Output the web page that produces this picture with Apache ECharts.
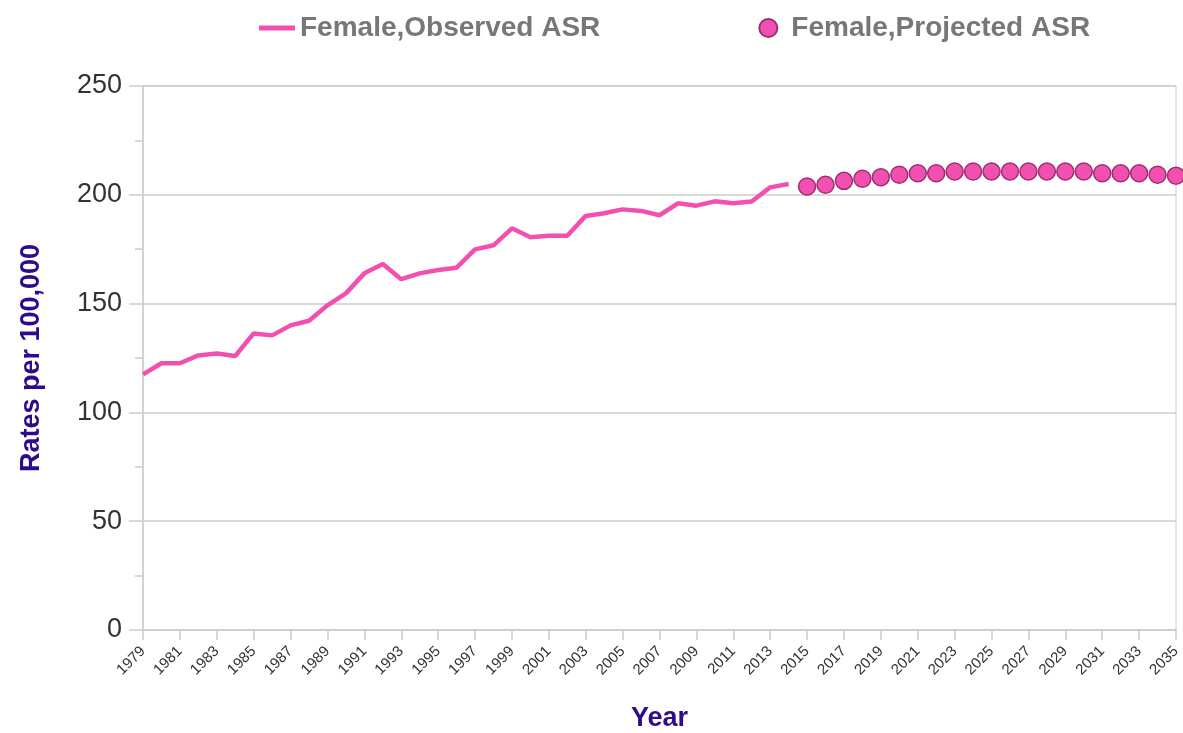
<!DOCTYPE html>
<html>
<head>
<meta charset="utf-8">
<script src="https://cdn.jsdelivr.net/npm/echarts@6/dist/echarts.min.js"></script>
<style>
    html, body { margin: 0; padding: 0; background: #fff; }
    #chart { width: 1183px; height: 733px; }
</style>
</head>
<body>
<div id="chart"></div>
<script>
var years = [];
for (var y = 1979; y <= 2035; y++) {
    years.push(String(y));
}

// 1979 - 2014
var observed = [117.5, 122.6, 122.6, 126.2, 127.1, 125.9, 136.3, 135.4, 140, 142.1,
    149.2, 154.7, 163.9, 168.2, 161.2, 163.9, 165.4, 166.5, 174.9, 176.8,
    184.6, 180.5, 181.2, 181.2, 190.3, 191.5, 193.3, 192.6, 190.6, 196.1,
    195, 197, 196.1, 196.9, 203.4, 205];

// 2015 - 2035
var projected = [203.8, 204.6, 206.4, 207.4, 208.1, 209.2, 209.9, 209.9, 210.7, 210.7,
    210.7, 210.7, 210.7, 210.7, 210.7, 210.7, 209.9, 209.9, 209.9, 209.2, 208.8];

var obsData = years.map(function (y, i) {
    return i < observed.length ? observed[i] : null;
});
var projData = years.map(function (y, i) {
    var j = i - observed.length;
    return j >= 0 ? projected[j] : null;
});

var chart = echarts.init(document.getElementById('chart'));

var option = {
    animation: false,
    textStyle: { fontFamily: 'Liberation Sans, Arial, sans-serif' },
    legend: {
        top: 9,
        left: 254,
        itemGap: 158,
        itemWidth: 36,
        itemHeight: 18,
        textStyle: {
            color: '#777',
            fontSize: 28,
            fontWeight: 'bold'
        },
        data: [
            { name: 'Female,Observed ASR', icon: 'path://M0,0h36v5h-36z' },
            { name: 'Female,Projected ASR', icon: 'circle' }
        ]
    },
    grid: {
        left: 143,
        right: 7,
        top: 86,
        bottom: 103,
        outerBoundsMode: 'none',
        containLabel: false,
        show: true,
        borderColor: '#ccc',
        borderWidth: 1
    },
    xAxis: {
        type: 'category',
        data: years,
        boundaryGap: false,
        name: 'Year',
        nameLocation: 'middle',
        nameGap: 75,
        nameTextStyle: {
            color: '#2e0a8c',
            fontSize: 27,
            fontWeight: 'bold'
        },
        axisLine: { lineStyle: { color: '#ccc', width: 1.5 } },
        axisTick: { interval: 1, length: 10, lineStyle: { color: '#ccc', width: 1.5 } },
        axisLabel: {
            interval: 1,
            rotate: 45,
            fontSize: 15,
            color: '#333',
            margin: 19
        },
        splitLine: { show: false }
    },
    yAxis: {
        type: 'value',
        min: 0,
        max: 250,
        interval: 50,
        name: 'Rates per 100,000',
        nameLocation: 'middle',
        nameGap: 98,
        nameTextStyle: {
            color: '#2e0a8c',
            fontSize: 27,
            fontWeight: 'bold'
        },
        axisLine: { show: true, lineStyle: { color: '#ccc', width: 1.5 } },
        axisTick: { show: true, length: 14, lineStyle: { color: '#ccc', width: 1.5 } },
        minorTick: { show: true, splitNumber: 2, length: 8, lineStyle: { color: '#ccc', width: 1.5 } },
        axisLabel: {
            fontSize: 27,
            color: '#333',
            margin: 21
        },
        splitLine: { lineStyle: { color: '#ccc', width: 1.5 } }
    },
    series: [
        {
            name: 'Female,Observed ASR',
            type: 'line',
            data: obsData,
            symbol: 'none',
            lineStyle: { color: '#f250b0', width: 4.5 },
            itemStyle: { color: '#f250b0' }
        },
        {
            name: 'Female,Projected ASR',
            type: 'scatter',
            data: projData,
            symbol: 'circle',
            symbolSize: 17,
            itemStyle: {
                color: '#f250b0',
                borderColor: '#9c2f72',
                borderWidth: 1.5,
                opacity: 1
            }
        }
    ]
};

chart.setOption(option);
</script>
</body>
</html>
